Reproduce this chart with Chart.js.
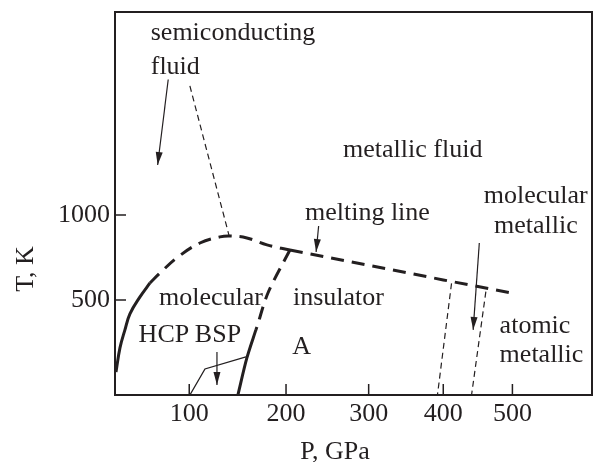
<!DOCTYPE html>
<html>
<head>
<meta charset="utf-8">
<script src="https://cdn.jsdelivr.net/npm/chart.js@4.4.1/dist/chart.umd.min.js"></script>
<style>
  html, body { margin: 0; padding: 0; background: #fff; }
  #wrap { width: 598px; height: 462px; }
</style>
</head>
<body>
<div id="wrap"><canvas id="phaseChart"></canvas></div>
<script>
// the pressure axis of the figure is squeezed, about P^0.7
const EXP = 0.7;
const pw = p => Math.pow(p, EXP);

const pTicks = [100, 200, 300, 400, 500];
const tTicks = [500, 1000];
const pRange = [39.4, 623];
const tRange = [-59, 2194];

// lines as [P (GPa), T (K)]
const meltSolid = [[40.1, 76], [42.9, 218], [46.5, 324], [50.2, 418], [57.9, 518], [65.9, 600]];
const meltCurve = [[65.9, 600], [74.2, 659], [89.8, 753], [110, 835], [129.5, 871], [139.5, 876], [157.1, 865], [178.7, 824], [204.4, 794]];
const meltStraight = [[204.4, 794], [300, 704], [400, 618], [499, 541]];
const bspDashed = [[204.4, 794], [179.8, 541], [167.8, 341], [166.7, 324]];
const bspSolid = [[166.7, 324], [157.1, 159], [147.7, -59]];
const hcpBsp = [[100.6, -59], [114.8, 94], [156.1, 165]];
const semiBound = [[100.6, 1759], [138.5, 882]];
const metalBound1 = [[411.6, 598], [391.9, -59]];
const metalBound2 = [[460.8, 549], [440.1, -59]];

// arrows, last point is the tip
const arrowSemi = [[81.2, 1797], [72.2, 1294]];
const arrowMelt = [[238, 935], [235, 782]];
const arrowMolMet = [[451.3, 835], [442.4, 324]];
const arrowBsp = [[126.5, 194], [126.5, 0]];

// text labels [text, P, T, align]
const notes = [
  ['semiconducting', 66.5, 2070, 'left'],
  ['fluid', 66.5, 1872, 'left'],
  ['metallic fluid', 358, 1382, 'center'],
  ['melting line', 298.4, 1012, 'center'],
  ['molecular', 535.3, 1112, 'center'],
  ['metallic', 535.3, 935, 'center'],
  ['molecular', 120.6, 512, 'center'],
  ['insulator', 262, 512, 'center'],
  ['HCP', 77.5, 294, 'center'],
  ['BSP', 127.5, 294, 'center'],
  ['A', 217.9, 224, 'center'],
  ['atomic', 481, 343, 'left'],
  ['metallic', 481, 176, 'left']
];

const INK = '#231f20';
const FONT = '"Liberation Serif", "Times New Roman", serif';

const toXY = arr => arr.map(([p, t]) => ({x: pw(p), y: t}));

function line(data, opts) {
  return Object.assign({
    data: toXY(data),
    showLine: true,
    borderColor: INK,
    backgroundColor: INK,
    pointRadius: 0,
    borderWidth: 1.2,
    tension: 0,
    borderCapStyle: 'butt'
  }, opts);
}

const datasets = [
  line(meltSolid, {borderWidth: 3, tension: 0.4}),
  line(meltCurve, {borderWidth: 3, tension: 0.4, borderDash: [13, 8]}),
  line(meltStraight, {borderWidth: 3, borderDash: [13, 8]}),
  line(bspDashed, {borderWidth: 3, tension: 0.3, borderDash: [13, 8]}),
  line(bspSolid, {borderWidth: 3, tension: 0.3}),
  line(hcpBsp, {borderWidth: 1.3}),
  line(semiBound, {borderDash: [6, 4]}),
  line(metalBound1, {borderDash: [6, 4]}),
  line(metalBound2, {borderDash: [6, 4]}),
  line(arrowSemi, {arrow: true}),
  line(arrowMelt, {arrow: true}),
  line(arrowMolMet, {arrow: true}),
  line(arrowBsp, {arrow: true})
];

const arrowHeads = {
  id: 'arrowHeads',
  afterDatasetsDraw(chart) {
    const ctx = chart.ctx;
    chart.data.datasets.forEach((ds, i) => {
      if (!ds.arrow) return;
      const pts = chart.getDatasetMeta(i).data;
      const a = pts[pts.length - 2], b = pts[pts.length - 1];
      const ang = Math.atan2(b.y - a.y, b.x - a.x);
      ctx.save();
      ctx.translate(b.x, b.y);
      ctx.rotate(ang);
      ctx.beginPath();
      ctx.moveTo(0, 0);
      ctx.lineTo(-13, -3.5);
      ctx.lineTo(-13, 3.5);
      ctx.closePath();
      ctx.fillStyle = INK;
      ctx.fill();
      ctx.restore();
    });
  }
};

const frame = {
  id: 'frame',
  afterDraw(chart) {
    const {ctx, chartArea: a, scales: {x, y}} = chart;
    ctx.save();
    ctx.strokeStyle = INK;
    ctx.lineWidth = 2;
    ctx.strokeRect(a.left, a.top, a.right - a.left, a.bottom - a.top);
    // ticks point inwards
    ctx.lineWidth = 1.5;
    ctx.beginPath();
    pTicks.forEach(v => {
      const px = x.getPixelForValue(pw(v));
      ctx.moveTo(px, a.bottom);
      ctx.lineTo(px, a.bottom - 11);
    });
    tTicks.forEach(v => {
      const py = y.getPixelForValue(v);
      ctx.moveTo(a.left, py);
      ctx.lineTo(a.left + 11, py);
    });
    ctx.stroke();

    ctx.fillStyle = INK;
    ctx.font = '26px ' + FONT;
    ctx.textBaseline = 'middle';
    notes.forEach(([txt, p, t, align]) => {
      ctx.textAlign = align;
      ctx.fillText(txt, x.getPixelForValue(pw(p)), y.getPixelForValue(t));
    });

    // axis titles
    ctx.textAlign = 'center';
    ctx.fillText('P, GPa', 335, 452);
    ctx.translate(26, 269);
    ctx.rotate(-Math.PI / 2);
    ctx.fillText('T, K', 0, 0);
    ctx.restore();
  }
};

new Chart(document.getElementById('phaseChart'), {
  type: 'scatter',
  data: { datasets },
  options: {
    responsive: true,
    maintainAspectRatio: false,
    animation: false,
    layout: { padding: { top: 12, right: 6, left: 0, bottom: 0 } },
    plugins: { legend: { display: false }, tooltip: { enabled: false } },
    scales: {
      x: {
        type: 'linear',
        min: pw(pRange[0]),
        max: pw(pRange[1]),
        afterBuildTicks: s => { s.ticks = pTicks.map(v => ({value: pw(v)})); },
        afterFit: s => { s.height = 67; s.paddingLeft = 0; s.paddingRight = 0; },
        ticks: {
          callback: (v, i) => String(pTicks[i]),
          color: INK,
          font: { family: FONT, size: 26 },
          padding: 4,
          maxRotation: 0,
          autoSkip: false
        },
        grid: { display: false, drawTicks: false },
        border: { display: false }
      },
      y: {
        type: 'linear',
        min: tRange[0],
        max: tRange[1],
        afterBuildTicks: s => { s.ticks = tTicks.map(v => ({value: v})); },
        afterFit: s => { s.width = 115; s.paddingTop = 0; s.paddingBottom = 0; },
        ticks: {
          callback: v => String(v),
          color: INK,
          font: { family: FONT, size: 26 },
          padding: 5
        },
        grid: { display: false, drawTicks: false },
        border: { display: false }
      }
    }
  },
  plugins: [arrowHeads, frame]
});
</script>
</body>
</html>
